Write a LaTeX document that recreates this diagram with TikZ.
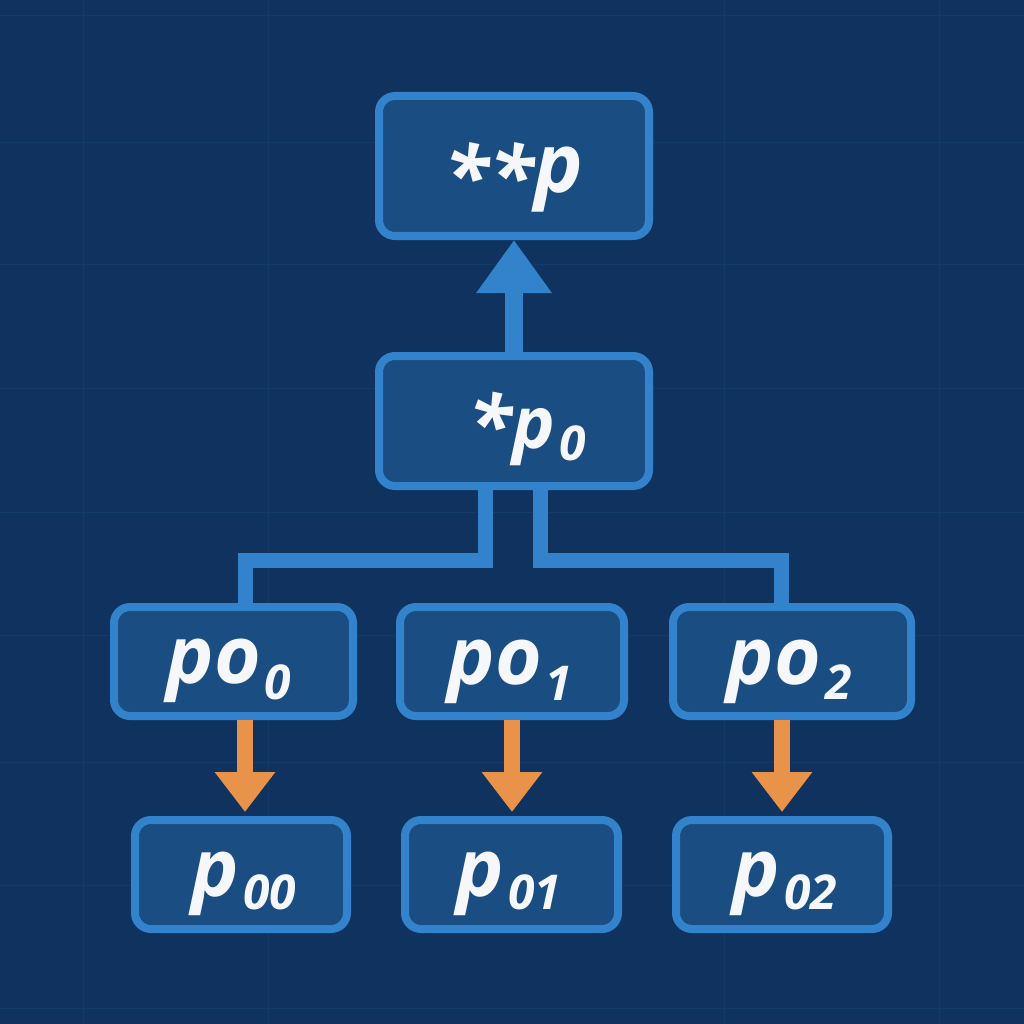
\documentclass[tikz,border=0pt]{standalone}
\usepackage{fontspec}
\setmainfont{Open Sans}
\usetikzlibrary{arrows.meta}
\definecolor{bgc}{HTML}{0F335E}
\definecolor{gridc}{HTML}{133B68}
\definecolor{boxfill}{HTML}{1A4D82}
\definecolor{boxline}{HTML}{3283CC}
\definecolor{orangec}{HTML}{E9924A}
\definecolor{txtc}{HTML}{F5F7FA}
\newcommand{\sbs}[2][15pt]{\kern4pt\raisebox{-#1}{\fontsize{48}{48}\selectfont #2}}
\begin{document}
\begin{tikzpicture}[x=1pt,y=-1pt,
  box/.style={draw=boxline, line width=8pt, fill=boxfill, rounded corners=16pt, inner sep=0pt},
  lab/.style={text=txtc, inner sep=0pt, anchor=base, font=\fontsize{80}{80}\selectfont\bfseries\itshape},
  conn/.style={draw=boxline, line width=15pt},
  uparrow/.style={draw=boxline, line width=18pt, -{Triangle[width=72pt,length=53pt]}},
  oarrow/.style={draw=orangec, line width=16pt, -{Triangle[width=58pt,length=40pt]}, shorten >=4pt}]
\fill[bgc] (0,0) rectangle (1024,1024);
\useasboundingbox (0,0) rectangle (1024,1024);
% faint grid
\foreach \gx in {83,268,724,939} \draw[gridc, line width=1pt] (\gx,0) -- (\gx,1024);
\foreach \gy in {16,143,264,388,512,635,762,885,1008} \draw[gridc, line width=1pt] (0,\gy) -- (1024,\gy);
% boxes
\node[box, minimum width=270pt, minimum height=140pt] (top) at (514,166) {};
\node[box, minimum width=270pt, minimum height=130pt] (mid) at (514,421) {};
\node[box, minimum width=239pt, minimum height=109pt] (po0) at (233.5,661.5) {};
\node[box, minimum width=224pt, minimum height=109pt] (po1) at (512,661.5) {};
\node[box, minimum width=238pt, minimum height=109pt] (po2) at (792,661.5) {};
\node[box, minimum width=212pt, minimum height=109pt] (p00) at (241,874.5) {};
\node[box, minimum width=213pt, minimum height=109pt] (p01) at (511.5,874.5) {};
\node[box, minimum width=212pt, minimum height=109pt] (p02) at (782,874.5) {};
% labels
\node[lab, font=\fontsize{82}{82}\selectfont\bfseries\itshape] (toplab) at (514,193) {\raisebox{-13pt}{**}p};
\node[lab, font=\fontsize{72}{72}\selectfont\bfseries\itshape] (midlab) at (527,448) {\raisebox{-5pt}{\fontsize{80}{80}\selectfont *}p\sbs[12pt]{0}};
\node[lab] (po0lab) at (229,683) {po\sbs[16pt]{0}};
\node[lab] (po1lab) at (510,684) {po\sbs[16pt]{1}};
\node[lab] (po2lab) at (789,684) {po\sbs[15pt]{2}};
\node[lab] (p00lab) at (244,896) {p\sbs[13pt]{00}};
\node[lab] (p01lab) at (509,896) {p\sbs[13pt]{01}};
\node[lab] (p02lab) at (785,896) {p\sbs[13pt]{02}};
% connectors
\draw[uparrow] (mid.north) -- (top.south);
\draw[conn] ([xshift=-29pt]mid.south) -- ++(0,70) -| ([xshift=11.5pt]po0.north);
\draw[conn] ([xshift=26pt]mid.south) -- ++(0,70) -| ([xshift=-11pt]po2.north);
\draw[oarrow] ([xshift=11.5pt]po0.south) -- ([xshift=4pt]p00.north);
\draw[oarrow] (po1.south) -- ([xshift=0.5pt]p01.north);
\draw[oarrow] ([xshift=-10pt]po2.south) -- (p02.north);
\end{tikzpicture}
\end{document}
